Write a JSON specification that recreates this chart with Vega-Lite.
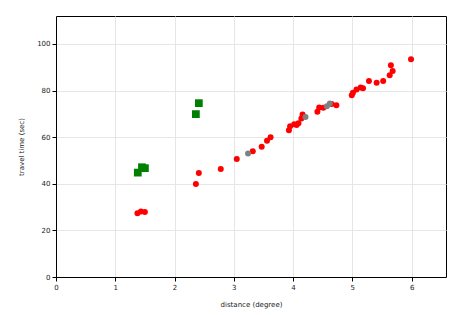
{
  "$schema": "https://vega.github.io/schema/vega-lite/v6.json",
  "autosize": "none",
  "padding": {"left": 56, "top": 16, "right": 19, "bottom": 38},
  "width": 390,
  "height": 261,
  "background": "white",
  "config": {
    "view": {"stroke": "black", "strokeWidth": 1},
    "axis": {
      "domainColor": "black",
      "tickColor": "black",
      "tickSize": 4,
      "labelFlush": false,
      "gridColor": "#e6e6e6",
      "gridWidth": 1,
      "labelFont": "DejaVu Sans",
      "labelFontSize": 7,
      "labelColor": "#222",
      "titleFont": "DejaVu Sans",
      "titleFontSize": 7,
      "titleFontWeight": "normal",
      "titleColor": "#222"
    }
  },
  "datasets": {
    "pts": [
      {"d": 1.38, "t": 44.8, "g": "green"},
      {"d": 1.45, "t": 47.1, "g": "green"},
      {"d": 1.50, "t": 46.7, "g": "green"},
      {"d": 2.36, "t": 69.9, "g": "green"},
      {"d": 2.41, "t": 74.6, "g": "green"},
      {"d": 1.374, "t": 27.4, "g": "red"},
      {"d": 1.433, "t": 28.1, "g": "red"},
      {"d": 1.50, "t": 27.9, "g": "red"},
      {"d": 2.36, "t": 39.9, "g": "red"},
      {"d": 2.41, "t": 44.6, "g": "red"},
      {"d": 2.78, "t": 46.3, "g": "red"},
      {"d": 3.05, "t": 50.6, "g": "red"},
      {"d": 3.32, "t": 54.0, "g": "red"},
      {"d": 3.47, "t": 55.9, "g": "red"},
      {"d": 3.56, "t": 58.5, "g": "red"},
      {"d": 3.62, "t": 60.0, "g": "red"},
      {"d": 3.93, "t": 63.0, "g": "red"},
      {"d": 3.95, "t": 64.7, "g": "red"},
      {"d": 4.02, "t": 65.6, "g": "red"},
      {"d": 4.09, "t": 66.0, "g": "red"},
      {"d": 4.06, "t": 65.2, "g": "red"},
      {"d": 4.14, "t": 68.0, "g": "red"},
      {"d": 4.16, "t": 69.7, "g": "red"},
      {"d": 4.41, "t": 70.9, "g": "red"},
      {"d": 4.44, "t": 72.7, "g": "red"},
      {"d": 4.51, "t": 72.6, "g": "red"},
      {"d": 4.65, "t": 74.2, "g": "red"},
      {"d": 4.73, "t": 73.7, "g": "red"},
      {"d": 4.99, "t": 78.0, "g": "red"},
      {"d": 5.01, "t": 79.1, "g": "red"},
      {"d": 5.07, "t": 80.5, "g": "red"},
      {"d": 5.14, "t": 81.3, "g": "red"},
      {"d": 5.18, "t": 81.0, "g": "red"},
      {"d": 5.28, "t": 84.1, "g": "red"},
      {"d": 5.41, "t": 83.4, "g": "red"},
      {"d": 5.52, "t": 84.1, "g": "red"},
      {"d": 5.63, "t": 86.6, "g": "red"},
      {"d": 5.68, "t": 88.4, "g": "red"},
      {"d": 5.65, "t": 90.9, "g": "red"},
      {"d": 5.99, "t": 93.4, "g": "red"},
      {"d": 3.24, "t": 53.0, "g": "gray"},
      {"d": 4.21, "t": 68.7, "g": "gray"},
      {"d": 4.57, "t": 73.3, "g": "gray"},
      {"d": 4.62, "t": 74.5, "g": "gray"}
    ]
  },
  "data": {"name": "pts"},
  "layer": [
    {
      "transform": [{"filter": "datum.g === 'green'"}],
      "mark": {"type": "square", "filled": true, "opacity": 1, "size": 60, "color": "green"},
      "encoding": {
        "x": {"field": "d", "type": "quantitative", "scale": {"domain": [0, 6.58], "nice": false}, "axis": {"title": "distance (degree)", "values": [0, 1, 2, 3, 4, 5, 6], "format": "d", "titlePadding": 10}},
        "y": {"field": "t", "type": "quantitative", "scale": {"domain": [0, 112], "nice": false}, "axis": {"title": "travel time (sec)", "values": [0, 20, 40, 60, 80, 100], "format": "d", "titlePadding": 12}}
      }
    },
    {
      "transform": [{"filter": "datum.g === 'red'"}],
      "mark": {"type": "circle", "opacity": 1, "size": 36, "color": "red"},
      "encoding": {
        "x": {"field": "d", "type": "quantitative"},
        "y": {"field": "t", "type": "quantitative"}
      }
    },
    {
      "transform": [{"filter": "datum.g === 'gray'"}],
      "mark": {"type": "circle", "opacity": 1, "size": 36, "color": "gray"},
      "encoding": {
        "x": {"field": "d", "type": "quantitative"},
        "y": {"field": "t", "type": "quantitative"}
      }
    }
  ]
}
